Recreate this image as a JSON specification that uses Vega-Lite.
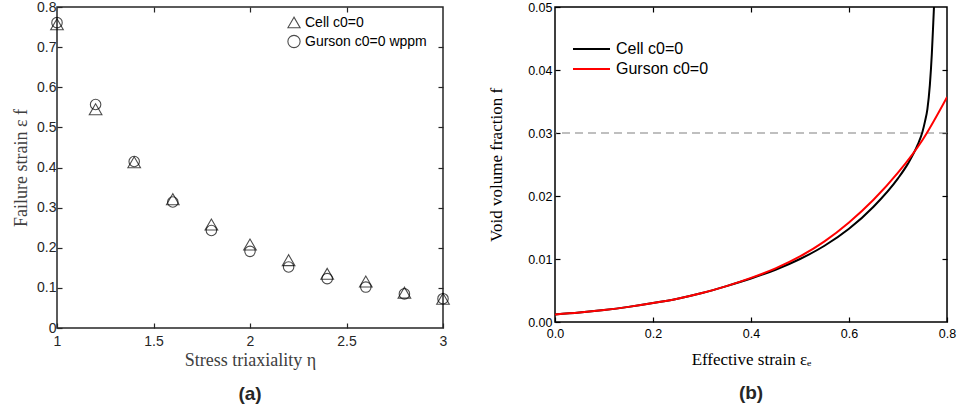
{
  "$schema": "https://vega.github.io/schema/vega-lite/v6.json",
  "background": "white",
  "padding": {"left": 11, "top": -1, "right": 8, "bottom": 5},
  "spacing": 33,
  "resolve": {"scale": {"color": "independent", "shape": "independent"}, "legend": {"color": "independent", "shape": "independent"}},
  "config": {
    "view": {"stroke": null},
    "axis": {"grid": false, "domain": false, "labelFlush": false, "labelFont": "Liberation Sans", "titleFont": "Liberation Serif", "titleFontWeight": "normal"},
    "legend": {"labelFont": "Liberation Sans"}
  },
  "hconcat": [
    {
      "width": 386,
      "height": 321,
      "title": {"text": "(a)", "orient": "bottom", "fontSize": 19, "fontWeight": "bold", "font": "Liberation Sans", "color": "#262626", "offset": 16},
      "view": {"stroke": "#262626", "strokeWidth": 1.5},
      "data": {
        "values": [
          {"eta": 1.0, "model": "Cell c0=0", "strain": 0.757},
          {"eta": 1.2, "model": "Cell c0=0", "strain": 0.545},
          {"eta": 1.4, "model": "Cell c0=0", "strain": 0.413},
          {"eta": 1.6, "model": "Cell c0=0", "strain": 0.321},
          {"eta": 1.8, "model": "Cell c0=0", "strain": 0.258},
          {"eta": 2.0, "model": "Cell c0=0", "strain": 0.208},
          {"eta": 2.2, "model": "Cell c0=0", "strain": 0.169},
          {"eta": 2.4, "model": "Cell c0=0", "strain": 0.135},
          {"eta": 2.6, "model": "Cell c0=0", "strain": 0.116},
          {"eta": 2.8, "model": "Cell c0=0", "strain": 0.088},
          {"eta": 3.0, "model": "Cell c0=0", "strain": 0.073},
          {"eta": 1.0, "model": "Gurson c0=0 wppm", "strain": 0.761},
          {"eta": 1.2, "model": "Gurson c0=0 wppm", "strain": 0.557},
          {"eta": 1.4, "model": "Gurson c0=0 wppm", "strain": 0.415},
          {"eta": 1.6, "model": "Gurson c0=0 wppm", "strain": 0.314},
          {"eta": 1.8, "model": "Gurson c0=0 wppm", "strain": 0.243},
          {"eta": 2.0, "model": "Gurson c0=0 wppm", "strain": 0.191},
          {"eta": 2.2, "model": "Gurson c0=0 wppm", "strain": 0.152},
          {"eta": 2.4, "model": "Gurson c0=0 wppm", "strain": 0.123},
          {"eta": 2.6, "model": "Gurson c0=0 wppm", "strain": 0.102},
          {"eta": 2.8, "model": "Gurson c0=0 wppm", "strain": 0.085},
          {"eta": 3.0, "model": "Gurson c0=0 wppm", "strain": 0.073}
        ]
      },
      "layer": [
        {
          "transform": [{"filter": "datum.model === 'Cell c0=0'"}],
          "mark": {"type": "point", "filled": false, "stroke": "black", "strokeWidth": 1.1, "size": 160},
          "encoding": {
            "x": {"field": "eta", "type": "quantitative", "scale": {"domain": [1, 3], "nice": false, "zero": false},
                  "axis": {"orient": "bottom", "values": [1, 1.5, 2, 2.5, 3], "format": "~g", "tickSize": -5, "tickColor": "#262626", "tickWidth": 1.2, "labelPadding": 11, "labelFontSize": 14, "labelColor": "#262626", "title": "Stress triaxiality η", "titleFontSize": 18, "titleColor": "#404040", "titlePadding": 3}},
            "y": {"field": "strain", "type": "quantitative", "scale": {"domain": [0, 0.8], "nice": false},
                  "axis": {"orient": "left", "values": [0, 0.1, 0.2, 0.3, 0.4, 0.5, 0.6, 0.7, 0.8], "format": "~g", "tickSize": -5, "tickColor": "#262626", "tickWidth": 1.2, "labelPadding": 6, "labelFontSize": 14, "labelColor": "#262626", "title": "Failure strain ε f", "titleFontSize": 18, "titleColor": "#404040", "titlePadding": 6}},
            "shape": {"field": "model", "type": "nominal", "scale": {"domain": ["Cell c0=0", "Gurson c0=0 wppm"], "range": ["triangle-up", "circle"]},
                      "legend": {"title": null, "orient": "none", "legendX": 230, "legendY": 7, "clipHeight": 17, "labelFontSize": 14, "labelColor": "black", "symbolStrokeColor": "black", "symbolStrokeWidth": 1.1, "symbolSize": 150, "symbolFillColor": "transparent", "rowPadding": 2, "labelOffset": 4}}
          }
        },
        {
          "transform": [{"filter": "datum.model === 'Gurson c0=0 wppm'"}],
          "mark": {"type": "point", "filled": false, "stroke": "black", "strokeWidth": 1.1, "size": 110},
          "encoding": {
            "x": {"field": "eta", "type": "quantitative", "scale": {"domain": [1, 3], "nice": false, "zero": false}, "axis": null},
            "y": {"field": "strain", "type": "quantitative", "scale": {"domain": [0, 0.8], "nice": false}, "axis": null},
            "shape": {"field": "model", "type": "nominal", "scale": {"domain": ["Cell c0=0", "Gurson c0=0 wppm"], "range": ["triangle-up", "circle"]}}
          }
        },
        {
          "mark": {"type": "point", "opacity": 0},
          "encoding": {
            "x": {"field": "eta", "type": "quantitative", "scale": {"domain": [1, 3], "nice": false, "zero": false},
                  "axis": {"orient": "top", "values": [1.5, 2, 2.5], "tickSize": -5, "tickColor": "#262626", "tickWidth": 1.2, "labels": false, "title": null}},
            "y": {"field": "strain", "type": "quantitative", "scale": {"domain": [0, 0.8], "nice": false},
                  "axis": {"orient": "right", "values": [0.1, 0.2, 0.3, 0.4, 0.5, 0.6, 0.7], "tickSize": -5, "tickColor": "#262626", "tickWidth": 1.2, "labels": false, "title": null}}
          }
        }
      ],
      "resolve": {"axis": {"x": "independent", "y": "independent"}}
    },
    {
      "width": 392,
      "height": 315,
      "title": {"text": "(b)", "orient": "bottom", "fontSize": 19, "fontWeight": "bold", "font": "Liberation Sans", "color": "#262626", "offset": 16},
      "view": {"stroke": "black", "strokeWidth": 1.5},
      "layer": [
        {
          "data": {"values": [{"f": 0.03}]},
          "mark": {"type": "rule", "stroke": "#808080", "strokeWidth": 1.2, "strokeDash": [8, 5]},
          "encoding": {"y": {"field": "f", "type": "quantitative", "scale": {"domain": [0, 0.05], "nice": false}, "axis": null}}
        },
        {
          "data": {
            "values": [
              {"e": 0.0, "model": "Cell c0=0", "f": 0.0012},
              {"e": 0.05, "model": "Cell c0=0", "f": 0.0015},
              {"e": 0.1, "model": "Cell c0=0", "f": 0.0019},
              {"e": 0.15, "model": "Cell c0=0", "f": 0.0024},
              {"e": 0.2, "model": "Cell c0=0", "f": 0.0030},
              {"e": 0.25, "model": "Cell c0=0", "f": 0.0037},
              {"e": 0.3, "model": "Cell c0=0", "f": 0.0046},
              {"e": 0.35, "model": "Cell c0=0", "f": 0.0057},
              {"e": 0.4, "model": "Cell c0=0", "f": 0.0069},
              {"e": 0.45, "model": "Cell c0=0", "f": 0.0083},
              {"e": 0.5, "model": "Cell c0=0", "f": 0.0100},
              {"e": 0.55, "model": "Cell c0=0", "f": 0.0121},
              {"e": 0.6, "model": "Cell c0=0", "f": 0.0148},
              {"e": 0.65, "model": "Cell c0=0", "f": 0.0183},
              {"e": 0.7, "model": "Cell c0=0", "f": 0.0228},
              {"e": 0.72, "model": "Cell c0=0", "f": 0.0251},
              {"e": 0.74, "model": "Cell c0=0", "f": 0.0281},
              {"e": 0.75, "model": "Cell c0=0", "f": 0.0302},
              {"e": 0.755, "model": "Cell c0=0", "f": 0.0318},
              {"e": 0.76, "model": "Cell c0=0", "f": 0.0338},
              {"e": 0.765, "model": "Cell c0=0", "f": 0.0376},
              {"e": 0.769, "model": "Cell c0=0", "f": 0.0425},
              {"e": 0.772, "model": "Cell c0=0", "f": 0.0475},
              {"e": 0.774, "model": "Cell c0=0", "f": 0.0510},
              {"e": 0.777, "model": "Cell c0=0", "f": 0.0560},
              {"e": 0.0, "model": "Gurson c0=0", "f": 0.0012},
              {"e": 0.05, "model": "Gurson c0=0", "f": 0.0015},
              {"e": 0.1, "model": "Gurson c0=0", "f": 0.0019},
              {"e": 0.15, "model": "Gurson c0=0", "f": 0.0024},
              {"e": 0.2, "model": "Gurson c0=0", "f": 0.0030},
              {"e": 0.25, "model": "Gurson c0=0", "f": 0.0037},
              {"e": 0.3, "model": "Gurson c0=0", "f": 0.0046},
              {"e": 0.35, "model": "Gurson c0=0", "f": 0.0057},
              {"e": 0.4, "model": "Gurson c0=0", "f": 0.0070},
              {"e": 0.45, "model": "Gurson c0=0", "f": 0.0085},
              {"e": 0.5, "model": "Gurson c0=0", "f": 0.0104},
              {"e": 0.55, "model": "Gurson c0=0", "f": 0.0128},
              {"e": 0.6, "model": "Gurson c0=0", "f": 0.0158},
              {"e": 0.65, "model": "Gurson c0=0", "f": 0.0194},
              {"e": 0.7, "model": "Gurson c0=0", "f": 0.0237},
              {"e": 0.75, "model": "Gurson c0=0", "f": 0.0289},
              {"e": 0.8, "model": "Gurson c0=0", "f": 0.0357}
            ]
          },
          "mark": {"type": "line", "strokeWidth": 2, "clip": true, "interpolate": "monotone"},
          "encoding": {
            "x": {"field": "e", "type": "quantitative", "scale": {"domain": [0, 0.8], "nice": false},
                  "axis": {"orient": "bottom", "values": [0, 0.2, 0.4, 0.6, 0.8], "format": ".1f", "tickSize": -5, "tickColor": "black", "tickWidth": 1.2, "labelPadding": 10, "labelFontSize": 12.5, "labelColor": "black", "title": "Effective strain εₑ", "titleFontSize": 17, "titleColor": "black", "titlePadding": 12}},
            "y": {"field": "f", "type": "quantitative", "scale": {"domain": [0, 0.05], "nice": false},
                  "axis": {"orient": "left", "values": [0, 0.01, 0.02, 0.03, 0.04, 0.05], "format": ".2f", "tickSize": -5, "tickColor": "black", "tickWidth": 1.2, "labelPadding": 8, "labelFontSize": 12.5, "labelColor": "black", "title": "Void volume fraction f", "titleFontSize": 17, "titleColor": "black", "titlePadding": 22}},
            "color": {"field": "model", "type": "nominal", "scale": {"domain": ["Cell c0=0", "Gurson c0=0"], "range": ["black", "#ff0000"]},
                      "legend": {"title": null, "orient": "none", "legendX": 17, "legendY": 33, "clipHeight": 18, "symbolType": "stroke", "symbolSize": 1369, "symbolStrokeWidth": 2, "labelFontSize": 16, "labelColor": "black", "rowPadding": 2, "labelOffset": 5}},
            "order": {"field": "e", "type": "quantitative"}
          }
        },
        {
          "data": {"values": [{"e": 0.4, "f": 0.025}]},
          "mark": {"type": "point", "opacity": 0},
          "encoding": {
            "x": {"field": "e", "type": "quantitative", "scale": {"domain": [0, 0.8], "nice": false},
                  "axis": {"orient": "top", "values": [0.2, 0.4, 0.6], "tickSize": -5, "tickColor": "black", "tickWidth": 1.2, "labels": false, "title": null}},
            "y": {"field": "f", "type": "quantitative", "scale": {"domain": [0, 0.05], "nice": false},
                  "axis": {"orient": "right", "values": [0.01, 0.02, 0.03, 0.04], "tickSize": -5, "tickColor": "black", "tickWidth": 1.2, "labels": false, "title": null}}
          }
        }
      ],
      "resolve": {"axis": {"x": "independent", "y": "independent"}}
    }
  ]
}
